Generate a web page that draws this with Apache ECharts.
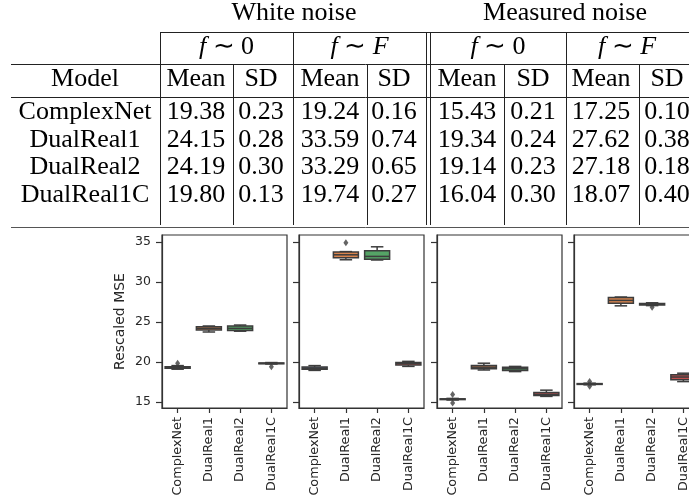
<!DOCTYPE html>
<html><head><meta charset="utf-8">
<script src="https://cdn.jsdelivr.net/npm/echarts@6/dist/echarts.min.js"></script>
<style>html,body{margin:0;padding:0;background:#fff;overflow:hidden}#c{width:720px;height:504px}</style>
</head><body><div id="c"></div>
<script>
// ---------- DATA ----------
const models = ['ComplexNet', 'DualReal1', 'DualReal2', 'DualReal1C'];
const yTicks = [15, 20, 25, 30, 35];

// table values
const whiteF0Mean = [19.38, 24.15, 24.19, 19.80];
const whiteF0SD   = [0.23, 0.28, 0.30, 0.13];
const whiteFFMean = [19.24, 33.59, 33.29, 19.74];
const whiteFFSD   = [0.16, 0.74, 0.65, 0.27];
const measF0Mean  = [15.43, 19.34, 19.14, 16.04];
const measF0SD    = [0.21, 0.24, 0.23, 0.30];
const measFFMean  = [17.25, 27.62, 27.18, 18.07];
const measFFSD    = [0.10, 0.38, 0.18, 0.40];

// boxplot stats per model: [min, q1, median, q3, max]
const whiteF0Box = [[19.10, 19.22, 19.30, 19.42, 19.55], [23.75, 24.00, 24.20, 24.40, 24.50], [23.85, 23.95, 24.20, 24.50, 24.62], [19.75, 19.78, 19.83, 19.88, 19.93]];
const whiteFFBox = [[18.95, 19.08, 19.22, 19.38, 19.55], [32.78, 33.02, 33.40, 33.75, 33.80], [32.75, 32.85, 33.20, 33.90, 34.40], [19.45, 19.62, 19.84, 19.95, 20.08]];
const measF0Box  = [[15.25, 15.30, 15.35, 15.40, 15.45], [19.00, 19.15, 19.35, 19.55, 19.85], [18.80, 18.95, 19.15, 19.35, 19.45], [15.70, 15.80, 15.95, 16.20, 16.48]];
const measFFBox  = [[17.15, 17.20, 17.25, 17.30, 17.35], [27.02, 27.35, 27.70, 28.05, 28.12], [27.05, 27.12, 27.22, 27.32, 27.40], [17.55, 17.78, 18.12, 18.40, 18.60]];
// outliers: [modelIndex, value]
const whiteF0Out = [[0, 19.85], [3, 19.40]];
const whiteFFOut = [[1, 34.90]];
const measF0Out  = [[0, 15.95], [0, 14.88]];
const measFFOut  = [[0, 17.55], [0, 16.98], [2, 26.85]];

// ---------- STYLE ----------
const boxColors = ['#5471a3', '#d8844e', '#55a466', '#c0504f'];
const lineGray = '#3d3d3d';
const textGray = '#262626';
const serif = '"Liberation Serif", "Times New Roman", serif';
const sans = '"DejaVu Sans", sans-serif';

const panels = [
  {box: whiteF0Box, out: whiteF0Out, left: 162},
  {box: whiteFFBox, out: whiteFFOut, left: 299},
  {box: measF0Box,  out: measF0Out,  left: 437},
  {box: measFFBox,  out: measFFOut,  left: 574}
];

const grid = [], xAxis = [], yAxis = [], series = [];
panels.forEach((p, i) => {
  grid.push({left: p.left, top: 235, width: 125, height: 173, show: true, borderColor: '#333', borderWidth: 1.2, backgroundColor: 'transparent'});
  xAxis.push({
    type: 'category', gridIndex: i, data: models, boundaryGap: true,
    axisLine: {show: true, lineStyle: {color: '#333', width: 1.2}},
    axisTick: {show: true, alignWithLabel: true, length: 5, lineStyle: {color: '#333', width: 1.2}},
    axisLabel: {rotate: 90, fontFamily: sans, fontSize: 12.8, color: textGray, margin: 9, interval: 0}
  });
  yAxis.push({
    type: 'value', gridIndex: i, min: 14.25, max: 35.875,
    splitLine: {show: false},
    axisLine: {show: true, lineStyle: {color: '#333', width: 1.2}},
    axisTick: {show: true, length: 6, customValues: yTicks, lineStyle: {color: '#333', width: 1.2}},
    axisLabel: {show: i === 0, customValues: yTicks, fontFamily: sans, fontSize: 12.5, color: textGray, margin: 11},
    name: i === 0 ? 'Rescaled MSE' : '', nameLocation: 'middle', nameGap: 35,
    nameTextStyle: {fontFamily: sans, fontSize: 14, color: textGray}
  });
  series.push({
    type: 'custom', xAxisIndex: i, yAxisIndex: i,
    data: p.box.map((b, k) => [k].concat(b)),
    encode: {x: 0, y: [1, 2, 3, 4, 5]},
    renderItem: function (params, api) {
      const k = api.value(0);
      const pMin = api.coord([k, api.value(1)]);
      const pQ1 = api.coord([k, api.value(2)]);
      const pMed = api.coord([k, api.value(3)]);
      const pQ3 = api.coord([k, api.value(4)]);
      const pMax = api.coord([k, api.value(5)]);
      const bw = api.size([1, 0])[0] * 0.8;
      const cx = pMed[0];
      const ls = {stroke: lineGray, lineWidth: 1.5};
      return {type: 'group', children: [
        {type: 'line', shape: {x1: cx, y1: pMin[1], x2: cx, y2: pQ1[1]}, style: ls},
        {type: 'line', shape: {x1: cx, y1: pQ3[1], x2: cx, y2: pMax[1]}, style: ls},
        {type: 'line', shape: {x1: cx - bw / 4, y1: pMin[1], x2: cx + bw / 4, y2: pMin[1]}, style: ls},
        {type: 'line', shape: {x1: cx - bw / 4, y1: pMax[1], x2: cx + bw / 4, y2: pMax[1]}, style: ls},
        {type: 'rect', shape: {x: cx - bw / 2, y: pQ3[1], width: bw, height: Math.max(pQ1[1] - pQ3[1], 0.5)},
         style: {fill: boxColors[k], stroke: lineGray, lineWidth: 1.5}},
        {type: 'line', shape: {x1: cx - bw / 2, y1: pMed[1], x2: cx + bw / 2, y2: pMed[1]}, style: ls}
      ]};
    }
  });
  series.push({
    type: 'scatter', xAxisIndex: i, yAxisIndex: i,
    data: p.out, symbol: 'diamond', symbolSize: [5, 7],
    itemStyle: {color: lineGray}
  });
});

// ---------- TABLE (graphic) ----------
const g = [];
function txt(s, x, y, size, rich) {
  const st = {text: s, x: x, y: y, font: size + 'px ' + serif, fill: '#000', align: 'center', verticalAlign: 'middle'};
  if (rich) st.rich = rich;
  g.push({type: 'text', style: st, z: 10});
}
function ln(x1, y1, x2, y2, c) {
  g.push({type: 'line', shape: {x1: x1, y1: y1, x2: x2, y2: y2}, style: {stroke: c || '#222', lineWidth: 1}, z: 10});
}
const FS = 26;
const ital = {i: {fontStyle: 'italic', fontFamily: serif, fontSize: FS, fill: '#000'}, r: {fontFamily: serif, fontSize: FS, fill: '#000'}};
txt('White noise', 294, 13, FS);
txt('Measured noise', 565, 13, FS);
txt('{i|f}{r| ∼ 0}', 226.5, 47, FS, ital);
txt('{i|f}{r| ∼ }{i|F}', 359.5, 47, FS, ital);
txt('{i|f}{r| ∼ 0}', 498, 47, FS, ital);
txt('{i|f}{r| ∼ }{i|F}', 627, 47, FS, ital);
txt('Model', 85, 79.5, FS);
const meanX = [196, 330, 467, 601], sdX = [261, 394, 533, 667];
meanX.forEach(x => txt('Mean', x, 79.5, FS));
sdX.forEach(x => txt('SD', x, 79.5, FS));
const rowY = [112, 139.7, 167.4, 195.1];
const cols = [[whiteF0Mean, whiteF0SD], [whiteFFMean, whiteFFSD], [measF0Mean, measF0SD], [measFFMean, measFFSD]];
models.forEach((m, r) => {
  txt(m, 85, rowY[r], FS);
  cols.forEach((c, j) => {
    txt(c[0][r].toFixed(2), meanX[j], rowY[r], FS);
    txt(c[1][r].toFixed(2), sdX[j], rowY[r], FS);
  });
});
// table rules
ln(160, 32.5, 720, 32.5);
ln(11, 64.5, 720, 64.5);
ln(11, 97.5, 720, 97.5);
ln(11, 227.5, 720, 227.5, '#555');
[160.5, 293.5, 426.5, 430.5, 566.5].forEach(x => ln(x, 32, x, 225));
[233.5, 367.5, 504.5, 639.5].forEach(x => ln(x, 64, x, 225));

const chart = echarts.init(document.getElementById('c'), null, {renderer: 'canvas'});
chart.setOption({
  animation: false,
  backgroundColor: '#fff',
  grid: grid, xAxis: xAxis, yAxis: yAxis, series: series,
  graphic: {elements: g}
});
</script></body></html>
